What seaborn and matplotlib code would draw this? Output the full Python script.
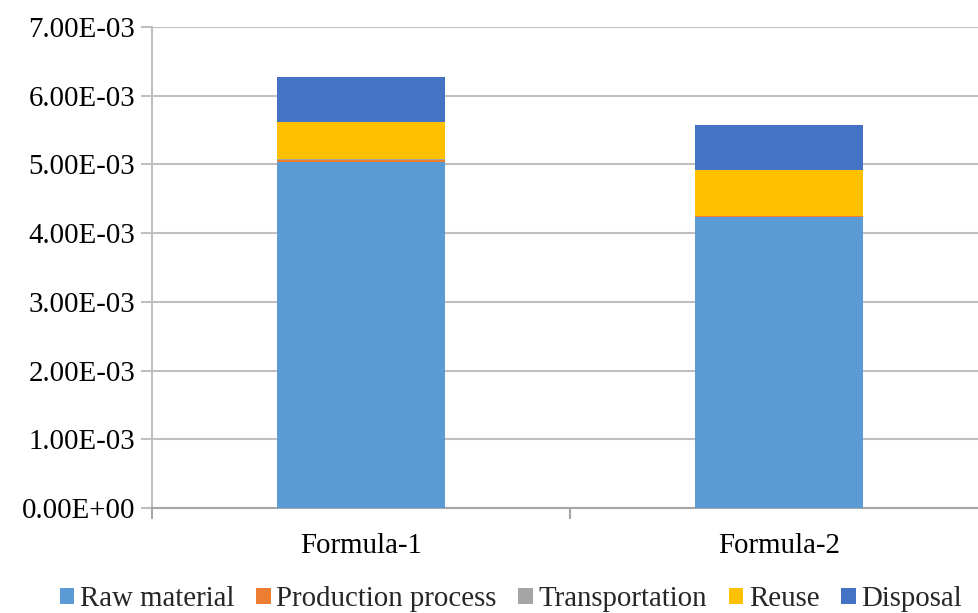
import numpy as np
import pandas as pd
import matplotlib
matplotlib.use("Agg")
import matplotlib.pyplot as plt
from matplotlib.patches import Patch
from matplotlib.ticker import FuncFormatter, MultipleLocator
import seaborn as sns

# Impact contributions per life-cycle stage
formulas = ["Formula-1", "Formula-2"]
stages = ["Raw material", "Production process", "Transportation", "Reuse", "Disposal"]
raw_material = [5.04e-3, 4.24e-3]
production_process = [0.03e-3, 0.01e-3]
transportation = [0.002e-3, 0.001e-3]
reuse = [0.545e-3, 0.67e-3]
disposal = [0.65e-3, 0.65e-3]
colors = ["#5B9BD5", "#ED7D31", "#A5A5A5", "#FFC000", "#4472C4"]
y_ticks = [0, 1e-3, 2e-3, 3e-3, 4e-3, 5e-3, 6e-3, 7e-3]

df = pd.DataFrame({
    "formula": formulas,
    "Raw material": raw_material,
    "Production process": production_process,
    "Transportation": transportation,
    "Reuse": reuse,
    "Disposal": disposal,
})
# cumulative heights so each stage sits on top of the previous ones
cum = df[stages].cumsum(axis=1)
cum["formula"] = df["formula"]

sns.set_theme(style="white")
plt.rcParams["font.family"] = "serif"
plt.rcParams["font.serif"] = ["Liberation Serif", "Times New Roman", "DejaVu Serif"]

FS = 20.8

fig = plt.figure(figsize=(9.79, 6.13), dpi=100)
ax = fig.add_axes([152 / 979, 1 - 508 / 613, (988 - 152) / 979, (508 - 27) / 613])

# draw from the tallest cumulative layer down so lower stages overlay upper ones
for stage, col in zip(stages[::-1], colors[::-1]):
    sns.barplot(data=cum, x="formula", y=stage, color=col, width=0.4,
                saturation=1, linewidth=0, edgecolor="none", ax=ax, zorder=3)

ax.set_xlim(-0.5, 1.5)
ax.set_ylim(0, 7e-3)
ax.set_yticks(y_ticks)
ax.yaxis.set_major_formatter(FuncFormatter(lambda v, p: f"{v:.2E}"))
ax.set_xlabel("")
ax.set_ylabel("")

grid_col = "#BFBFBF"
ax.grid(axis="y", color=grid_col, linewidth=1.5, zorder=0)
ax.set_axisbelow(True)
for side in ["top", "right"]:
    ax.spines[side].set_visible(False)
ax.spines["left"].set_color(grid_col)
ax.spines["left"].set_linewidth(1.5)
ax.spines["bottom"].set_color("#A6A6A6")
ax.spines["bottom"].set_linewidth(1.5)

ax.tick_params(axis="y", which="major", left=True, length=8, width=1.5,
               color=grid_col, labelsize=FS, labelcolor="black", pad=4)
# category labels without marks; marks placed between categories
ax.tick_params(axis="x", which="major", bottom=False, labelsize=FS,
               labelcolor="black", pad=12)
ax.xaxis.set_minor_locator(MultipleLocator(1, offset=0.5))
ax.tick_params(axis="x", which="minor", bottom=True, length=8, width=1.5,
               color="#A6A6A6")

handles = [Patch(facecolor=c, edgecolor="none") for c in colors]
fig.legend(handles, stages, loc="center", bbox_to_anchor=(511 / 979, 1 - 599 / 613),
           ncol=5, frameon=False, fontsize=FS, handlelength=0.5, handleheight=0.5,
           handletextpad=0.2, columnspacing=0.75, borderaxespad=0, borderpad=0)

fig.savefig("out.png", dpi=100)
